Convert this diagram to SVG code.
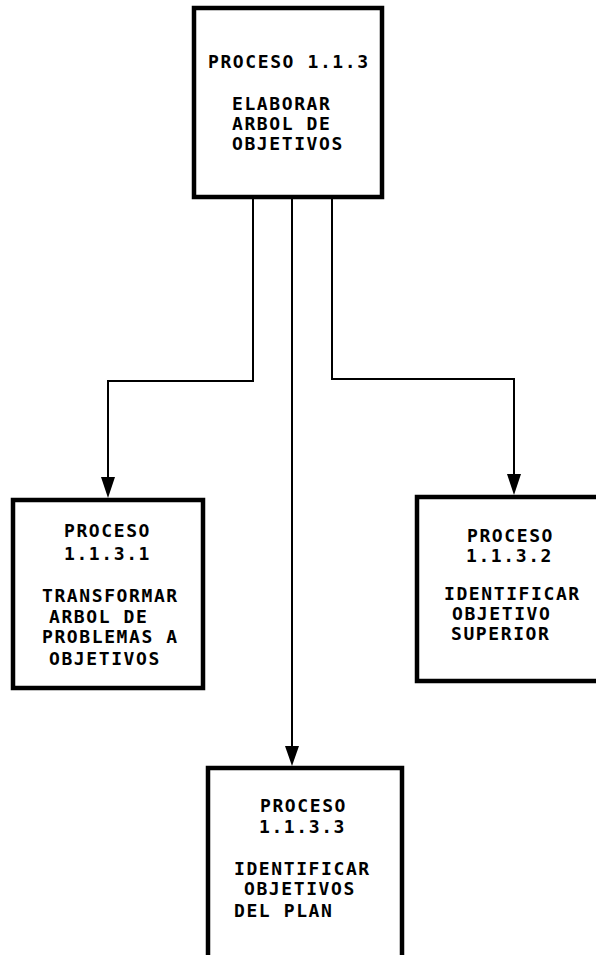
<svg xmlns="http://www.w3.org/2000/svg" width="596" height="955" viewBox="0 0 596 955">
<style>
.box{fill:#fff;stroke:#000;stroke-width:4.5}
.t{font-family:"DejaVu Sans Mono","Liberation Mono",monospace;font-size:18px;font-weight:bold;letter-spacing:1.6px;fill:#000}
.c{fill:none;stroke:#000;stroke-width:2}
</style>
<rect width="596" height="955" fill="#fff"/>
<g id="connectors">
<path class="c" d="M253,197 V381 H108 V477"/>
<path d="M101,477 H115 L108,498 Z"/>
<path class="c" d="M292,197 V746"/>
<path d="M285,746 H299 L292,766 Z"/>
<path class="c" d="M332,197 V379 H514 V474"/>
<path d="M507,474 H521 L514,495 Z"/>
</g>
<g id="n113">
<rect class="box" x="194" y="8" width="188" height="189"/>
<text class="t" x="208" y="68">PROCESO 1.1.3</text>
<text class="t" x="232" y="110">ELABORAR</text>
<text class="t" x="232" y="130">ARBOL DE</text>
<text class="t" x="232" y="150">OBJETIVOS</text>
</g>
<g id="n1131">
<rect class="box" x="13" y="500" width="190" height="188"/>
<text class="t" x="64" y="537">PROCESO</text>
<text class="t" x="64" y="560">1.1.3.1</text>
<text class="t" x="42" y="602">TRANSFORMAR</text>
<text class="t" x="49" y="623">ARBOL DE</text>
<text class="t" x="42" y="643">PROBLEMAS A</text>
<text class="t" x="49" y="665">OBJETIVOS</text>
</g>
<g id="n1132">
<rect class="box" x="417" y="497" width="196" height="184"/>
<text class="t" x="467" y="542">PROCESO</text>
<text class="t" x="466" y="562">1.1.3.2</text>
<text class="t" x="444" y="600">IDENTIFICAR</text>
<text class="t" x="452" y="620">OBJETIVO</text>
<text class="t" x="451" y="640">SUPERIOR</text>
</g>
<g id="n1133">
<rect class="box" x="208" y="768" width="194" height="200"/>
<text class="t" x="260" y="812">PROCESO</text>
<text class="t" x="259" y="833">1.1.3.3</text>
<text class="t" x="234" y="875">IDENTIFICAR</text>
<text class="t" x="244" y="895">OBJETIVOS</text>
<text class="t" x="234" y="917">DEL PLAN</text>
</g>
</svg>
